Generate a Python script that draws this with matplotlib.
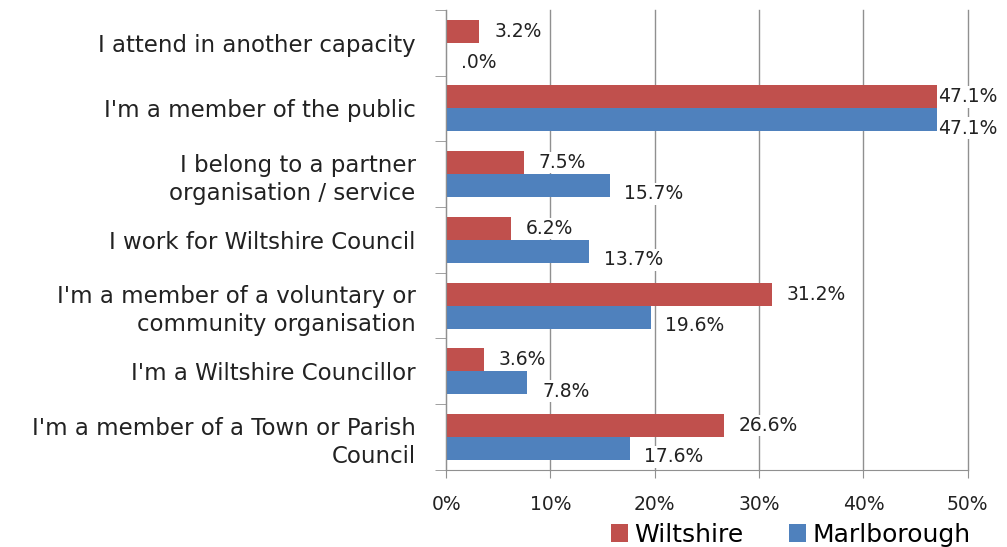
import matplotlib
matplotlib.use("Agg")
import numpy as np
import matplotlib.pyplot as plt

plt.rcParams['font.family'] = ['DejaVu Sans']

categories = [
    "I attend in another capacity",
    "I'm a member of the public",
    "I belong to a partner\norganisation / service",
    "I work for Wiltshire Council",
    "I'm a member of a voluntary or\ncommunity organisation",
    "I'm a Wiltshire Councillor",
    "I'm a member of a Town or Parish\nCouncil",
]
wiltshire = [3.2, 47.1, 7.5, 6.2, 31.2, 3.6, 26.6]
marlborough = [0.0, 47.1, 15.7, 13.7, 19.6, 7.8, 17.6]
series_names = ["Wiltshire", "Marlborough"]
colors = ['#C0504D', '#4F81BD']
xticks = [0, 10, 20, 30, 40, 50]


def fmt(v):
    s = f"{v:.1f}%"
    return s[1:] if s.startswith("0") else s


fig = plt.figure(figsize=(10.07, 5.47), dpi=100)
ax = fig.add_axes([0.443, 0.141, 0.518, 0.841])

y = np.arange(len(categories))
h = 0.35
bars_w = ax.barh(y - h / 2, wiltshire, height=h, color=colors[0], label=series_names[0], zorder=2)
bars_m = ax.barh(y + h / 2, marlborough, height=h, color=colors[1], label=series_names[1], zorder=2)

# data labels with white boxes (they hide the gridlines, like in Excel)
# blue labels sit a bit lower than their bars in the original
for vals, yy, dy in ((wiltshire, y - h / 2, 0), (marlborough, y + h / 2, -6)):
    for v, yc in zip(vals, yy):
        xpos = min(v + 1.4, 47.2)
        ax.annotate(fmt(v), (xpos, yc), xytext=(0, dy), textcoords='offset points',
                    va='center', ha='left', fontsize=13.5, color='#222222',
                    bbox=dict(facecolor='white', edgecolor='none', pad=1),
                    zorder=3, annotation_clip=False)

ax.set_xlim(0, 50)
ax.set_ylim(len(categories) - 0.5, -0.5)
ax.set_xticks(xticks)
ax.set_xticklabels([f"{t}%" for t in xticks], fontsize=13.5, color='#222222')
ax.set_yticks(y)
ax.set_yticklabels(categories, fontsize=16.5, color='#222222', linespacing=1.3)
ax.set_yticks(np.arange(-0.5, len(categories)), minor=True)
ax.tick_params(axis='y', which='major', length=0, pad=22)
ax.tick_params(axis='y', which='minor', length=8, color='#909090', direction='out')
ax.tick_params(axis='x', which='major', length=6, color='#909090', direction='out', pad=12)

ax.grid(axis='x', color='#909090', linewidth=1, zorder=0)
ax.set_axisbelow(True)
for line in ax.get_xgridlines():
    line.set_clip_on(False)
for side in ('top', 'right'):
    ax.spines[side].set_visible(False)
for side in ('left', 'bottom'):
    ax.spines[side].set_color('#909090')

fig.legend(handles=[bars_w, bars_m], loc='center', bbox_to_anchor=(0.785, 0.022),
           ncol=2, frameon=False, fontsize=18, handlelength=0.7, handleheight=0.7,
           handletextpad=0.25, columnspacing=1.8, borderaxespad=0)

fig.savefig("out.png", dpi=100)
